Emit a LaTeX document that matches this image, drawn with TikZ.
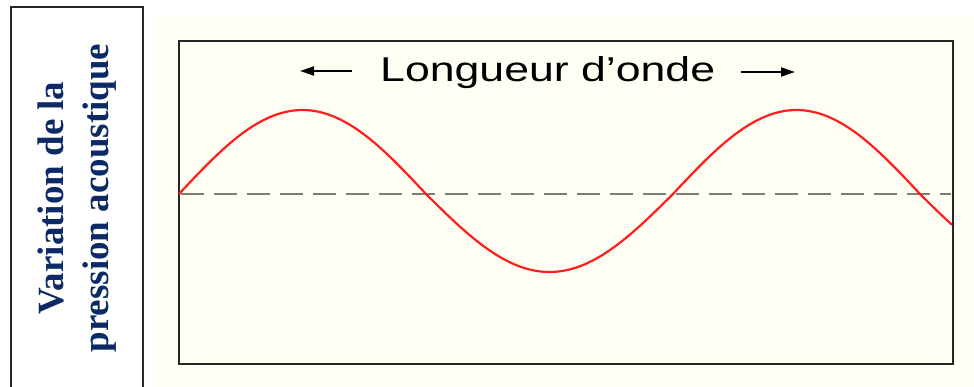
\documentclass[tikz,border=0pt]{standalone}
\usepackage{fontspec}
\setmainfont{Liberation Serif}
\newfontfamily\wavefont{Liberation Sans}
\usetikzlibrary{arrows.meta}
\definecolor{cream}{RGB}{255,255,244}
\definecolor{navy}{RGB}{12,42,102}
\definecolor{wavered}{RGB}{255,30,30}
\definecolor{dashgray}{RGB}{125,125,118}
\begin{document}
\begin{tikzpicture}[x=1pt,y=-1pt,
  labeltext/.style={font=\bfseries\fontsize{37}{40}\selectfont, text=navy, rotate=90, anchor=base, inner sep=0pt},
  framebox/.style={draw=black!85, line width=2pt, fill=cream, inner sep=0pt, anchor=north west},
  wavearrow/.style={line width=2pt, -{Triangle[length=14pt,width=9pt]}},
  axisline/.style={dashgray, line width=2pt, dash pattern=on 23pt off 10pt},
  waveline/.style={wavered, line width=2.2pt}]
\useasboundingbox (0,0) rectangle (974,387);
\clip (0,0) rectangle (974,387);
\fill[white] (0,0) rectangle (974,387);
\draw[line width=1.2pt, draw=black!85] (11,7) rectangle (143,400);
\fill[cream] (157,15) rectangle (974,387);
\node[labeltext] (l1) at (63,198) {Variation de la};
\node[labeltext] (l2) at (108,198) {pression acoustique};
\node[framebox, minimum width=774pt, minimum height=323pt] (frame) at (178,40) {};
\coordinate (d1) at (181,194);
\coordinate (d2) at (951,194);
\draw[axisline] (d1) -- (d2);
\draw[waveline] plot[domain=0:563.3, samples=240, smooth] ({179+1.37222*\x}, {194 - (81*sin(\x) + 3*abs(sin(\x)))});
\node[anchor=base west, inner sep=0pt] (title) at (380,82) {\resizebox{335pt}{25pt}{\wavefont Longueur d’onde}};
\coordinate (la1) at (352,71);
\coordinate (la2) at (300,71);
\coordinate (ra1) at (741,72);
\coordinate (ra2) at (795,72);
\draw[wavearrow] (la1) -- (la2);
\draw[wavearrow] (ra1) -- (ra2);
\end{tikzpicture}
\end{document}
